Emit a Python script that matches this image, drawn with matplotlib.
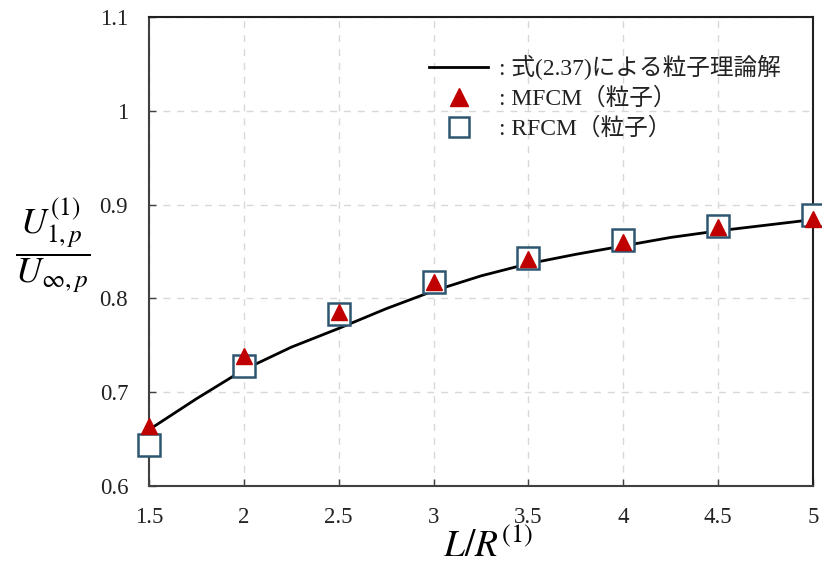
import matplotlib
matplotlib.use('Agg')
import matplotlib.pyplot as plt
from matplotlib.lines import Line2D

plt.rcParams['mathtext.fontset'] = 'stix'

# theory curve
x_theory = [1.5, 1.75, 2.0, 2.25, 2.5, 2.75, 3.0, 3.25, 3.5, 3.75, 4.0, 4.25, 4.5, 4.75, 5.0]
y_theory = [0.660, 0.693, 0.724, 0.748, 0.768, 0.789, 0.808, 0.824, 0.837, 0.847, 0.856, 0.865, 0.872, 0.878, 0.884]

# simulation points
x_sim = [1.5, 2.0, 2.5, 3.0, 3.5, 4.0, 4.5, 5.0]
y_mfcm = [0.664, 0.739, 0.786, 0.817, 0.842, 0.860, 0.876, 0.885]
y_rfcm = [0.644, 0.728, 0.783, 0.818, 0.843, 0.862, 0.877, 0.889]

x_ticks = [1.5, 2, 2.5, 3, 3.5, 4, 4.5, 5]
x_ticklabels = ['1.5', '2', '2.5', '3', '3.5', '4', '4.5', '5']
y_ticks = [0.6, 0.7, 0.8, 0.9, 1.0, 1.1]
y_ticklabels = ['0.6', '0.7', '0.8', '0.9', '1', '1.1']

legend_labels = [': 式(2.37)による粒子理論解', ': MFCM（粒子）', ': RFCM（粒子）']

text_font = ['Liberation Serif', 'Noto Sans CJK JP']

fig = plt.figure(figsize=(8.22, 5.74), dpi=100)
ax = fig.add_axes([149 / 822, 1 - 486 / 574, (813 - 149) / 822, (486 - 17) / 574])

ax.plot(x_theory, y_theory, color='black', lw=2.0, zorder=3)
ax.plot(x_sim, y_rfcm, ls='none', marker='s', ms=16.5, mfc='white', mec='#2f5670',
        mew=1.8, zorder=4, clip_on=False)
ax.plot(x_sim, y_mfcm, ls='none', marker='^', ms=11.5, mfc='#c00000', mec='#c00000',
        zorder=5, clip_on=False)

ax.set_xlim(1.5, 5)
ax.set_ylim(0.6, 1.1)
ax.set_xticks(x_ticks)
ax.set_xticklabels(x_ticklabels)
ax.set_yticks(y_ticks)
ax.set_yticklabels(y_ticklabels)
ax.tick_params(direction='in', length=5, width=1, colors='#404040', labelcolor='#222222',
               labelsize=16.5)
ax.tick_params(axis='x', pad=15)
ax.tick_params(axis='y', pad=15)
for lab in ax.get_xticklabels() + ax.get_yticklabels():
    lab.set_family('Liberation Serif')

ax.grid(True, ls=(0, (5, 5)), color='#d8d8d8', lw=1)
ax.set_axisbelow(True)
for side in ['left', 'bottom']:
    ax.spines[side].set_color('#404040')
    ax.spines[side].set_linewidth(1.5)
for side in ['top', 'right']:
    ax.spines[side].set_color('#202020')
    ax.spines[side].set_linewidth(1.5)

fig.text(53 / 822, 1 - 245 / 574, r'$\dfrac{U_{1,p}^{(1)}}{U_{\infty,p}}$', fontsize=26,
         ha='center', va='center')
fig.text(488 / 822, 1 - 547 / 574, r'$L/R^{(1)}$', fontsize=27, ha='center', va='center')

handles = [
    Line2D([], [], color='black', lw=2.0),
    Line2D([], [], ls='none', marker='^', ms=13, mfc='#c00000', mec='#c00000'),
    Line2D([], [], ls='none', marker='s', ms=15, mfc='white', mec='#2f5670', mew=1.8),
]
leg = ax.legend(handles, legend_labels, loc='upper left', bbox_to_anchor=(0.39, 0.965),
                frameon=False, handlelength=2.5, handletextpad=0.45, labelspacing=0.32,
                prop={'family': text_font, 'size': 17})
for t in leg.get_texts():
    t.set_color('#222222')

fig.savefig('out.png', dpi=100)
